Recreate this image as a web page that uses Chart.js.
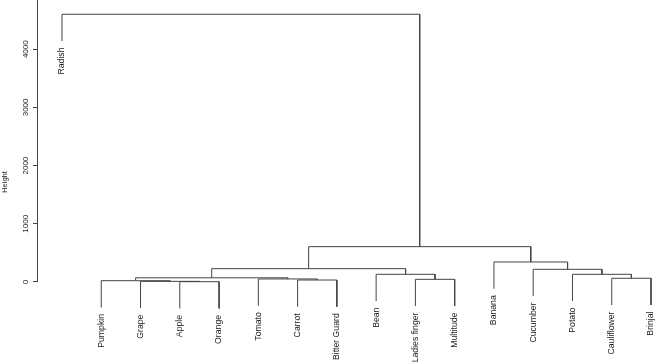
<!DOCTYPE html>
<html>
<head>
<meta charset="utf-8">
<script src="https://cdn.jsdelivr.net/npm/chart.js@4/dist/chart.umd.min.js"></script>
<style>
  html, body { margin: 0; padding: 0; background: #fff; }
  #wrap { width: 656px; height: 364px; }
</style>
</head>
<body>
<div id="wrap"><canvas id="dendro" width="656" height="364"></canvas></div>
<script>
// leaves in plotted order (left to right)
const leaves = ['Radish', 'Pumpkin', 'Grape', 'Apple', 'Orange', 'Tomato', 'Carrot', 'Bitter Guard',
    'Bean', 'Ladies finger', 'Multitude', 'Banana', 'Cucumber', 'Potato', 'Cauliflower', 'Brinjal'];

// merges like R's hclust: negative = leaf number, positive = earlier merge
const mergeLeft   = [-4, -3, -2, -7, -6, 3, -10, -9, 6, -15, -14, -13, -12, 9, -1];
const mergeRight  = [-5,  1,  2, -8,  4, 5, -11,  7, 8, -16,  10,  11,  12, 13, 14];
const mergeHeight = [ 5, 11, 22, 34, 52, 72, 46, 132, 229, 64, 132, 218, 344, 607, 4600];

const yTicks = [0, 1000, 2000, 3000, 4000];

const lineColor = '#444';
const textColor = '#222';

var hang = 0.1 * (Math.max.apply(null, mergeHeight) - Math.min.apply(null, mergeHeight));

var clusterX = [];
var leafBottom = [];
var datasets = [];

function childX(c) {
    return c < 0 ? -c : clusterX[c - 1];
}

function childBottom(c, h) {
    if (c < 0) {
        leafBottom[-c - 1] = h - hang;
        return h - hang;
    }
    return mergeHeight[c - 1];
}

for (var i = 0; i < mergeHeight.length; i++) {
    var h = mergeHeight[i];
    var xl = childX(mergeLeft[i]);
    var xr = childX(mergeRight[i]);
    clusterX[i] = (xl + xr) / 2;
    datasets.push({
        data: [
            { x: xl, y: childBottom(mergeLeft[i], h) },
            { x: xl, y: h },
            { x: xr, y: h },
            { x: xr, y: childBottom(mergeRight[i], h) }
        ],
        showLine: true,
        borderColor: lineColor,
        borderWidth: 1,
        pointRadius: 0,
        tension: 0
    });
}

// leaf names hanging under each leaf line + the short axis line
const dendroExtras = {
    id: 'dendroExtras',
    afterDraw: function (chart) {
        var ctx = chart.ctx;
        var xs = chart.scales.x;
        var ys = chart.scales.y;
        ctx.save();
        ctx.fillStyle = textColor;
        ctx.font = '8.7px "Liberation Sans", Arial, sans-serif';
        ctx.textAlign = 'right';
        ctx.textBaseline = 'middle';
        for (var j = 0; j < leaves.length; j++) {
            var px = xs.getPixelForValue(j + 1);
            var py = ys.getPixelForValue(leafBottom[j]) + 6.5;
            ctx.save();
            ctx.translate(px, py);
            ctx.rotate(-Math.PI / 2);
            ctx.fillText(leaves[j], 0, 0);
            ctx.restore();
        }
        ctx.strokeStyle = lineColor;
        ctx.lineWidth = 1;
        ctx.beginPath();
        ctx.moveTo(chart.chartArea.left - 0.5, ys.getPixelForValue(0));
        ctx.lineTo(chart.chartArea.left - 0.5, 0);
        ctx.stroke();
        ctx.restore();
    }
};

new Chart(document.getElementById('dendro'), {
    type: 'scatter',
    data: { datasets: datasets },
    options: {
        responsive: false,
        animation: false,
        devicePixelRatio: 1,
        layout: { padding: 0 },
        plugins: {
            legend: { display: false },
            tooltip: { enabled: false }
        },
        scales: {
            x: {
                type: 'linear',
                display: false,
                min: 0.389,
                max: 16.127
            },
            y: {
                type: 'linear',
                position: 'left',
                min: -1409,
                max: 4845,
                afterBuildTicks: function (scale) {
                    scale.ticks = yTicks.map(function (v) { return { value: v }; });
                },
                afterFit: function (scale) {
                    scale.width = 38;
                    scale.paddingTop = 0;
                    scale.paddingBottom = 0;
                },
                border: { display: false },
                grid: {
                    display: true,
                    drawOnChartArea: false,
                    drawTicks: true,
                    tickLength: 5,
                    color: lineColor,
                    lineWidth: 1
                },
                ticks: {
                    minRotation: 90,
                    maxRotation: 90,
                    crossAlign: 'center',
                    padding: -2,
                    color: textColor,
                    font: { family: '"Liberation Sans", Arial, sans-serif', size: 8 },
                    callback: function (v) { return String(v); }
                },
                title: {
                    display: true,
                    text: 'Height',
                    color: textColor,
                    padding: 0,
                    font: { family: '"Liberation Sans", Arial, sans-serif', size: 7.5, lineHeight: 1.2 }
                }
            }
        }
    },
    plugins: [dendroExtras]
});
</script>
</body>
</html>
